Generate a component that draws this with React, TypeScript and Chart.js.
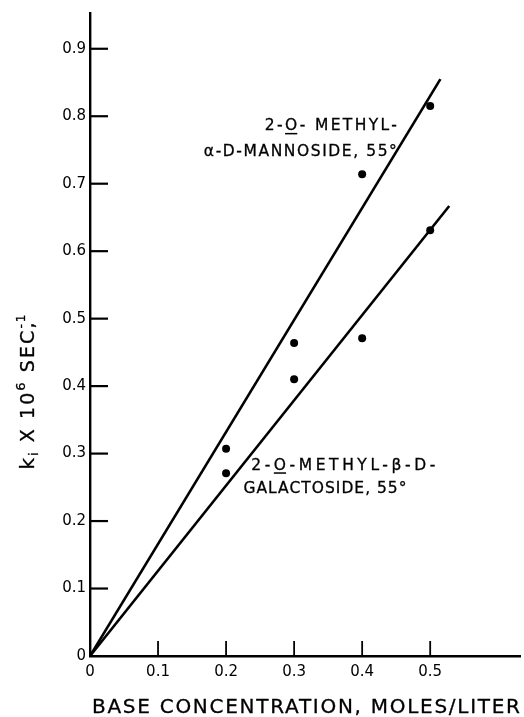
import React, { useEffect, useRef } from "react";
import { Chart, registerables } from "chart.js";

Chart.register(...registerables);

// ---- data ----
const concentration = [0.2, 0.3, 0.4, 0.5];
const mannosideRate = [0.307, 0.464, 0.714, 0.815];
const galactosideRate = [0.271, 0.41, 0.471, 0.631];

const mannosideFitX = [0, 0.515];
const mannosideFitY = [0, 0.855];
const galactosideFitX = [0, 0.528];
const galactosideFitY = [0, 0.667];

const xTickValues = [0, 0.1, 0.2, 0.3, 0.4, 0.5];
const xTickLabels = ["0", "0.1", "0.2", "0.3", "0.4", "0.5"];
const yTickValues = [0, 0.1, 0.2, 0.3, 0.4, 0.5, 0.6, 0.7, 0.8, 0.9];
const yTickLabels = ["0", "0.1", "0.2", "0.3", "0.4", "0.5", "0.6", "0.7", "0.8", "0.9"];

const xAxisMax = 0.632;
const yAxisMax = 0.953;

const xTitle = "BASE CONCENTRATION, MOLES/LITER";

// ---- styling ----
const FONT = '"DejaVu Sans", "Liberation Sans", sans-serif';
const INK = "#000";

type Seg = { t: string; size: number; dy?: number; under?: boolean; noAdvance?: boolean };

function drawRich(
  ctx: CanvasRenderingContext2D,
  segs: Seg[],
  x: number,
  y: number,
  align: "left" | "right" | "center",
  targetWidth?: number
) {
  const anyCtx = ctx as any;
  anyCtx.letterSpacing = "0px";
  let natural = 0;
  let chars = 0;
  const widths = segs.map((s) => {
    ctx.font = `${s.size}px ${FONT}`;
    const w = ctx.measureText(s.t).width;
    if (!s.noAdvance) {
      natural += w;
      chars += Array.from(s.t).length;
    }
    return w;
  });
  const ls = targetWidth ? (targetWidth - natural) / Math.max(chars - 1, 1) : 0;
  const total = targetWidth ?? natural;
  let cx = align === "left" ? x : align === "right" ? x - total : x - total / 2;
  ctx.textBaseline = "alphabetic";
  ctx.textAlign = "left";
  ctx.fillStyle = INK;
  ctx.strokeStyle = INK;
  ctx.lineWidth = 0.3;
  segs.forEach((s, i) => {
    ctx.font = `${s.size}px ${FONT}`;
    anyCtx.letterSpacing = `${ls}px`;
    ctx.fillText(s.t, cx, y + (s.dy || 0));
    ctx.strokeText(s.t, cx, y + (s.dy || 0));
    if (s.under) ctx.fillRect(cx, y + 2.5, widths[i], 1.5);
    if (!s.noAdvance) cx += widths[i] + ls * Array.from(s.t).length;
  });
  anyCtx.letterSpacing = "0px";
}

const figurePlugin = {
  id: "figureDecor",
  afterDraw(chart: any) {
    const ctx: CanvasRenderingContext2D = chart.ctx;
    const xs = chart.scales.x;
    const ys = chart.scales.y;
    const area = chart.chartArea;
    ctx.save();
    // inward tick marks
    ctx.strokeStyle = INK;
    ctx.lineWidth = 2.2;
    yTickValues.forEach((v) => {
      if (v === 0) return;
      const py = ys.getPixelForValue(v);
      ctx.beginPath();
      ctx.moveTo(area.left, py);
      ctx.lineTo(area.left + 18, py);
      ctx.stroke();
    });
    ctx.lineWidth = 1.8;
    xTickValues.forEach((v) => {
      if (v === 0) return;
      const px = xs.getPixelForValue(v);
      ctx.beginPath();
      ctx.moveTo(px, area.bottom);
      ctx.lineTo(px, area.bottom - 15);
      ctx.stroke();
    });

    // x axis title
    drawRich(ctx, [{ t: xTitle, size: 20 }], 92, 713, "left", 428);

    // y axis title (rotated)
    ctx.save();
    ctx.translate(34, 392);
    ctx.rotate(-Math.PI / 2);
    drawRich(
      ctx,
      [
        { t: "k", size: 20 },
        { t: "i", size: 12, dy: 4 },
        { t: " X 10", size: 19 },
        { t: "6", size: 13, dy: -9 },
        { t: " SEC", size: 19 },
        { t: ",", size: 19, noAdvance: true },
        { t: "-1", size: 12, dy: -9 },
      ],
      0,
      0,
      "center",
      155
    );
    ctx.restore();

    // curve labels (positioned in data units)
    const mx = xs.getPixelForValue(0.451);
    drawRich(
      ctx,
      [
        { t: "2-", size: 15.5 },
        { t: "O", size: 15.5, under: true },
        { t: "- METHYL-", size: 15.5 },
      ],
      mx,
      ys.getPixelForValue(0.779),
      "right",
      132
    );
    drawRich(ctx, [{ t: "α-D-MANNOSIDE, 55°", size: 15.5 }], mx, ys.getPixelForValue(0.741), "right", 193);

    drawRich(
      ctx,
      [
        { t: "2-", size: 15.5 },
        { t: "O", size: 15.5, under: true },
        { t: "-METHYL-β-D-", size: 15.5 },
      ],
      xs.getPixelForValue(0.237),
      ys.getPixelForValue(0.276),
      "left",
      184
    );
    drawRich(
      ctx,
      [{ t: "GALACTOSIDE, 55°", size: 15.5 }],
      xs.getPixelForValue(0.2256),
      ys.getPixelForValue(0.2415),
      "left",
      163
    );
    ctx.restore();
  },
};

export default function App() {
  const ref = useRef<HTMLCanvasElement | null>(null);

  useEffect(() => {
    const canvas = ref.current;
    if (!canvas) return;
    const pts = (xv: number[], yv: number[]) => xv.map((x, i) => ({ x, y: yv[i] }));
    const chart = new Chart(canvas, {
      type: "scatter",
      data: {
        datasets: [
          {
            label: "mannoside fit",
            data: pts(mannosideFitX, mannosideFitY),
            showLine: true,
            borderColor: INK,
            borderWidth: 2.6,
            pointRadius: 0,
            fill: false,
          },
          {
            label: "galactoside fit",
            data: pts(galactosideFitX, galactosideFitY),
            showLine: true,
            borderColor: INK,
            borderWidth: 2.6,
            pointRadius: 0,
            fill: false,
          },
          {
            label: "2-O-methyl-α-D-mannoside, 55°",
            data: pts(concentration, mannosideRate),
            showLine: false,
            pointRadius: 4,
            backgroundColor: INK,
            borderColor: INK,
            borderWidth: 0,
          },
          {
            label: "2-O-methyl-β-D-galactoside, 55°",
            data: pts(concentration, galactosideRate),
            showLine: false,
            pointRadius: 4,
            backgroundColor: INK,
            borderColor: INK,
            borderWidth: 0,
          },
        ],
      },
      options: {
        responsive: false,
        animation: false,
        devicePixelRatio: 1,
        layout: { padding: { top: 13, left: 0, right: 0, bottom: 0 } },
        plugins: { legend: { display: false }, tooltip: { enabled: false } },
        scales: {
          x: {
            type: "linear",
            min: 0,
            max: xAxisMax,
            grid: { display: false, drawTicks: false },
            border: { display: true, color: INK, width: 2.6 },
            ticks: {
              padding: 7,
              color: INK,
              autoSkip: false,
              maxRotation: 0,
              font: { family: FONT, size: 15 },
              callback: (_v: any, i: number) => xTickLabels[i],
            },
            afterBuildTicks: (s: any) => {
              s.ticks = xTickValues.map((value) => ({ value }));
            },
            afterFit: (s: any) => {
              s.height = 61;
            },
          },
          y: {
            type: "linear",
            min: 0,
            max: yAxisMax,
            grid: { display: false, drawTicks: false },
            border: { display: true, color: INK, width: 2.4 },
            ticks: {
              padding: 4,
              color: INK,
              autoSkip: false,
              font: { family: FONT, size: 15 },
              callback: (_v: any, i: number) => yTickLabels[i],
            },
            afterBuildTicks: (s: any) => {
              s.ticks = yTickValues.map((value) => ({ value }));
            },
            afterFit: (s: any) => {
              s.width = 90;
            },
          },
        },
      } as any,
      plugins: [figurePlugin],
    });
    return () => chart.destroy();
  }, []);

  return (
    <div style={{ position: "fixed", left: 0, top: 0, width: 524, height: 717, background: "#fff" }}>
      <canvas ref={ref} width={524} height={717} style={{ display: "block", width: 524, height: 717 }} />
    </div>
  );
}
